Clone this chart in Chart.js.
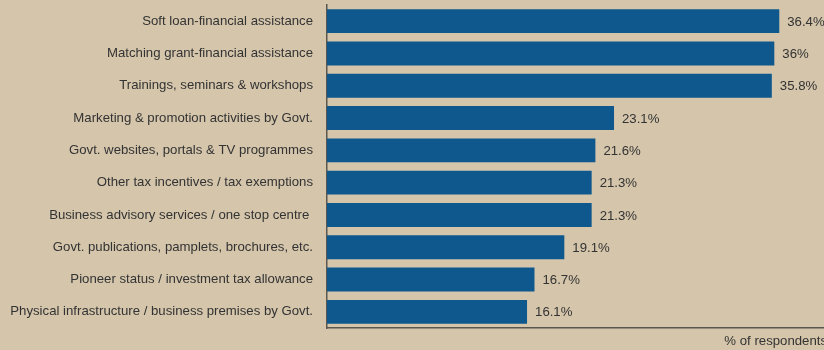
<!DOCTYPE html>
<html>
<head>
<meta charset="utf-8">
<script src="https://cdn.jsdelivr.net/npm/chart.js@4/dist/chart.umd.min.js"></script>
<style>
  html, body { margin: 0; padding: 0; background: #d4c5ab; overflow: hidden; }
  #wrap { position: relative; width: 824px; height: 350px; }
</style>
</head>
<body>
<div id="wrap"><canvas id="c"></canvas></div>
<script>
const categories = [
  "Soft loan-financial assistance",
  "Matching grant-financial assistance",
  "Trainings, seminars & workshops",
  "Marketing & promotion activities by Govt.",
  "Govt. websites, portals & TV programmes",
  "Other tax incentives / tax exemptions",
  "Business advisory services / one stop centre ",
  "Govt. publications, pamplets, brochures, etc.",
  "Pioneer status / investment tax allowance",
  "Physical infrastructure / business premises by Govt."
];
const respondentsPct = [36.4, 36, 35.8, 23.1, 21.6, 21.3, 21.3, 19.1, 16.7, 16.1];
const axisTitle = "% of respondents";

const textColor = "#333333";
const fontFamily = "'Liberation Sans', Arial, sans-serif";
const fontSize = 13.2;

// Percentage labels placed just past the end of each bar
const valueLabels = {
  id: "valueLabels",
  afterDatasetsDraw(chart) {
    const ctx = chart.ctx;
    const meta = chart.getDatasetMeta(0);
    ctx.save();
    ctx.font = fontSize + "px " + fontFamily;
    ctx.fillStyle = textColor;
    ctx.textAlign = "left";
    ctx.textBaseline = "middle";
    meta.data.forEach((bar, i) => {
      ctx.fillText(respondentsPct[i] + "%", bar.x + 8, bar.y + 1);
    });
    ctx.restore();
  }
};

// Axis caption sitting under the bottom-right end of the value axis
const axisCaption = {
  id: "axisCaption",
  afterDraw(chart) {
    const ctx = chart.ctx;
    ctx.save();
    ctx.font = fontSize + "px " + fontFamily;
    ctx.fillStyle = textColor;
    ctx.textAlign = "right";
    ctx.textBaseline = "middle";
    ctx.fillText(axisTitle, chart.chartArea.right + 3, chart.chartArea.bottom + 13);
    ctx.restore();
  }
};

new Chart(document.getElementById("c"), {
  type: "bar",
  data: {
    labels: categories,
    datasets: [{
      data: respondentsPct,
      backgroundColor: "#0e588e",
      borderWidth: 0,
      categoryPercentage: 1,
      barPercentage: 0.74
    }]
  },
  options: {
    indexAxis: "y",
    responsive: true,
    maintainAspectRatio: false,
    animation: false,
    layout: { padding: { top: 5, right: 0, bottom: 0, left: 0 } },
    plugins: {
      legend: { display: false },
      tooltip: { enabled: false }
    },
    scales: {
      x: {
        min: 0,
        max: 40,
        ticks: { display: false },
        grid: { display: false, drawTicks: false },
        border: { display: true, color: "#5a5650", width: 1.5 },
        afterFit(scale) {
          scale.height = 22;
          scale.paddingLeft = 0; scale.paddingRight = 0;
          scale.paddingTop = 0; scale.paddingBottom = 0;
        }
      },
      y: {
        ticks: {
          color: textColor,
          font: { family: fontFamily, size: fontSize },
          padding: 14
        },
        grid: { display: false, drawTicks: false },
        border: { display: true, color: "#5a5650", width: 1.5 },
        afterFit(scale) {
          scale.width = 327;
          scale.paddingTop = 0; scale.paddingBottom = 0;
        }
      }
    }
  },
  plugins: [valueLabels, axisCaption]
});
</script>
</body>
</html>
